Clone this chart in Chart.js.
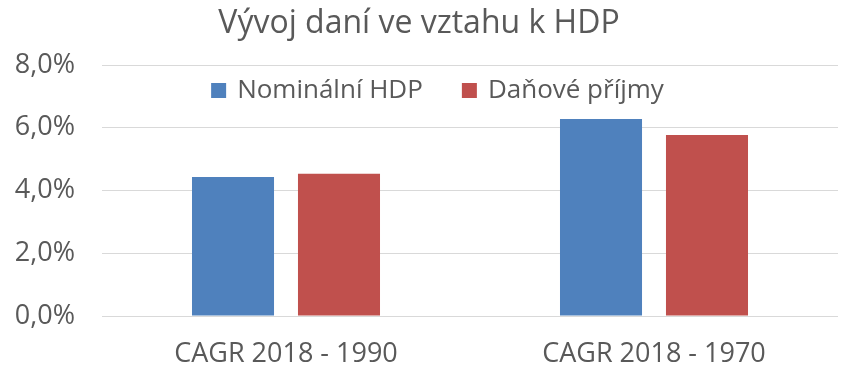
<!DOCTYPE html>
<html><head><meta charset="utf-8">
<script src="https://cdn.jsdelivr.net/npm/chart.js@4.4.1/dist/chart.umd.min.js"></script>
<style>html,body{margin:0;padding:0;background:#fff}#wrap{width:857px;height:382px}</style>
</head><body><div id="wrap"><canvas id="c" width="857" height="382"></canvas></div>
<script>
const categories = ["CAGR 2018 - 1990", "CAGR 2018 - 1970"];
const nominalniHDP = [4.43, 6.28];
const danovePrijmy = [4.53, 5.77];
const seriesNames = ["Nominální HDP", "Daňové příjmy"];
const yTicks = [0, 2, 4, 6, 8];

const FONT = "'Open Sans', sans-serif";
const GREY = "#595959";

// horizontal legend drawn inside the plot area
const innerLegend = {
  id: 'innerLegend',
  afterDraw(chart) {
    const ctx = chart.ctx;
    const size = 26, box = 15, gapText = 11, gapItem = 39;
    ctx.save();
    ctx.font = `${size}px ${FONT}`;
    ctx.textBaseline = 'middle';
    const items = chart.data.datasets.map(d => ({ label: d.label, color: d.backgroundColor, w: ctx.measureText(d.label).width }));
    let total = 0;
    items.forEach((it, i) => { total += box + gapText + it.w + (i < items.length - 1 ? gapItem : 0); });
    const cx = chart.width / 2 + 9;
    const cy = chart.chartArea.top + 25.5;
    let x = cx - total / 2;
    items.forEach(it => {
      ctx.fillStyle = it.color;
      ctx.fillRect(x, cy - box / 2, box, box);
      x += box + gapText;
      ctx.fillStyle = GREY;
      ctx.fillText(it.label, x, cy);
      x += it.w + gapItem;
    });
    ctx.restore();
  }
};

new Chart(document.getElementById('c'), {
  type: 'bar',
  data: {
    labels: categories,
    datasets: [
      { label: seriesNames[0], data: nominalniHDP, backgroundColor: '#4F81BD', borderWidth: 0 },
      { label: seriesNames[1], data: danovePrijmy, backgroundColor: '#C0504D', borderWidth: 0 }
    ]
  },
  options: {
    responsive: false,
    animation: false,
    devicePixelRatio: 1,
    layout: { padding: { left: 0, right: 19, top: 0, bottom: 13 } },
    datasets: { bar: { categoryPercentage: 0.576, barPercentage: 0.774 } },
    plugins: {
      title: {
        display: true,
        text: 'Vývoj daní ve vztahu k HDP',
        color: GREY,
        font: { family: FONT, size: 32, weight: 'normal' },
        padding: { top: 5, bottom: 21.6 }
      },
      legend: { display: false },
      tooltip: { enabled: false }
    },
    scales: {
      x: {
        grid: { display: false },
        border: { display: false },
        afterFit(scale) { scale.height = 53; },
        ticks: { color: GREY, font: { family: FONT, size: 27 }, padding: 14, maxRotation: 0 }
      },
      y: {
        min: 0, max: 8,
        afterBuildTicks(scale) { scale.ticks = yTicks.map(v => ({ value: v })); },
        afterFit(scale) { scale.width = 102; },
        grid: { color: '#D9D9D9', lineWidth: 1, drawTicks: false },
        border: { display: false },
        ticks: {
          color: GREY, font: { family: FONT, size: 27 }, padding: 27,
          callback: v => v.toFixed(1).replace('.', ',') + '%'
        }
      }
    }
  },
  plugins: [innerLegend]
});
</script>
</body></html>
